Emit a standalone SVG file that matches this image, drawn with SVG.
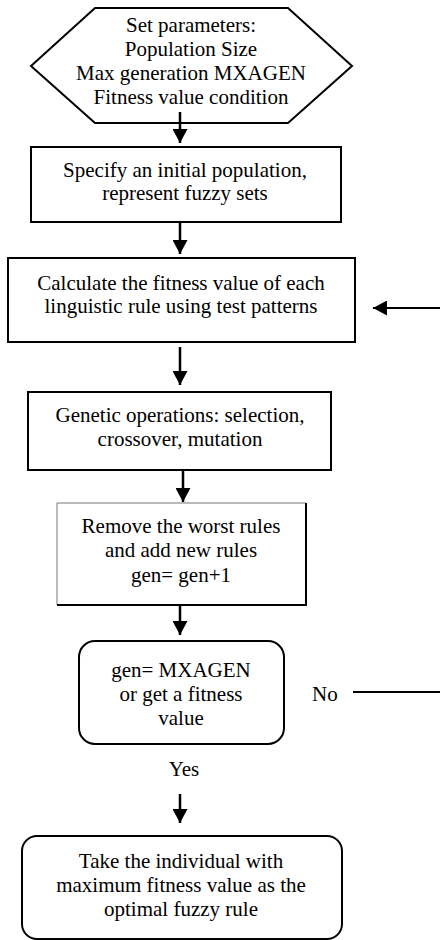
<svg xmlns="http://www.w3.org/2000/svg" width="440" height="940" viewBox="0 0 440 940">
  <style>
    .box { fill: #fff; stroke: #000; stroke-width: 2; }
    .t { font-family: "Liberation Serif", "Times New Roman", serif; font-size: 21px; fill: #000; text-anchor: middle; }
    .lbl { font-family: "Liberation Serif", "Times New Roman", serif; font-size: 21px; fill: #000; }
    .conn { fill: none; stroke: #000; stroke-width: 2.5; }
    .thin { fill: none; stroke: #000; stroke-width: 1.8; }
  </style>
  <defs>
    <marker id="ah" markerUnits="userSpaceOnUse" viewBox="0 0 14 15" markerWidth="14" markerHeight="15" refX="14" refY="7.5" orient="auto">
      <path d="M0,0 L14,7.5 L0,15 z" fill="#000"/>
    </marker>
  </defs>
  <rect width="440" height="940" fill="#fff"/>

  <g id="n1">
    <polygon class="box" points="31,66 95,8 288,8 352,66 288,123 95,123"/>
    <text class="t" x="191" y="32">Set parameters:</text>
    <text class="t" x="191" y="56">Population Size</text>
    <text class="t" x="191" y="80">Max generation MXAGEN</text>
    <text class="t" x="191" y="104">Fitness value condition</text>
  </g>

  <g id="n2">
    <rect class="box" x="31" y="147" width="310" height="75"/>
    <text class="t" x="185" y="177">Specify an initial population,</text>
    <text class="t" x="185" y="200">represent fuzzy sets</text>
  </g>

  <g id="n3">
    <rect class="box" x="8" y="258" width="347" height="84"/>
    <text class="t" x="181" y="290">Calculate the fitness value of each</text>
    <text class="t" x="181" y="313">linguistic rule using test patterns</text>
  </g>

  <g id="n4">
    <rect class="box" x="28" y="392" width="303" height="78"/>
    <text class="t" x="180" y="422">Genetic operations: selection,</text>
    <text class="t" x="180" y="446">crossover, mutation</text>
  </g>

  <g id="n5">
    <rect x="57" y="503" width="249" height="102" fill="#fff"/>
    <path d="M57,605 L57,503 L306,503" fill="none" stroke="#777" stroke-width="1"/>
    <path d="M306,503 L306,605 L57,605" fill="none" stroke="#000" stroke-width="2"/>
    <text class="t" x="181" y="533">Remove the worst rules</text>
    <text class="t" x="181" y="557">and add new rules</text>
    <text class="t" x="181" y="582">gen= gen+1</text>
  </g>

  <g id="n6">
    <rect class="box" x="79" y="641" width="205" height="103" rx="16" ry="16"/>
    <text class="t" x="181" y="677">gen= MXAGEN</text>
    <text class="t" x="181" y="701">or get a fitness</text>
    <text class="t" x="181" y="725">value</text>
  </g>

  <g id="n7">
    <rect class="box" x="22" y="836" width="320" height="103" rx="15" ry="15"/>
    <text class="t" x="181" y="868">Take the individual with</text>
    <text class="t" x="181" y="892">maximum fitness value as the</text>
    <text class="t" x="181" y="916">optimal fuzzy rule</text>
  </g>

  <g id="connectors">
    <line class="conn" x1="180" y1="112" x2="180" y2="143" marker-end="url(#ah)"/>
    <line class="conn" x1="180" y1="222" x2="180" y2="254" marker-end="url(#ah)"/>
    <line class="conn" x1="180" y1="347" x2="180" y2="385" marker-end="url(#ah)"/>
    <line class="conn" x1="183" y1="470" x2="183" y2="502" marker-end="url(#ah)"/>
    <line class="conn" x1="180" y1="605" x2="180" y2="635" marker-end="url(#ah)"/>
    <line class="conn" x1="180" y1="794" x2="180" y2="823" marker-end="url(#ah)"/>
    <line class="thin" x1="440" y1="308" x2="373" y2="308" marker-end="url(#ah)"/>
    <line class="thin" x1="353" y1="692" x2="440" y2="692"/>
    <text class="lbl" x="312" y="701">No</text>
    <text class="t" x="184" y="776">Yes</text>
  </g>
</svg>
